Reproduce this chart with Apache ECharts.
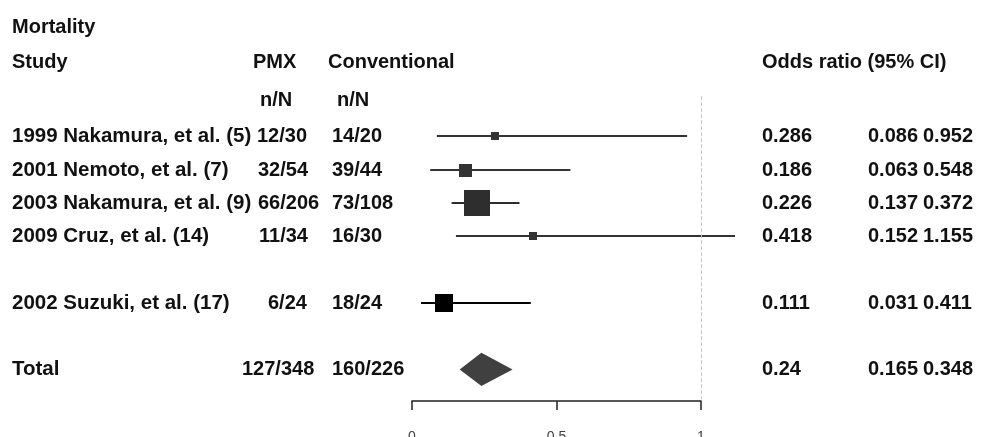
<!DOCTYPE html>
<html>
<head>
<meta charset="utf-8">
<script src="https://cdn.jsdelivr.net/npm/echarts@6/dist/echarts.min.js"></script>
<style>
html, body { margin: 0; padding: 0; background: #fff; }
#main { width: 987px; height: 437px; }
</style>
</head>
<body>
<div id="main"></div>
<script>
// data
var studies = ['1999 Nakamura, et al. (5)', '2001 Nemoto, et al. (7)', '2003 Nakamura, et al. (9)', '2009 Cruz, et al. (14)', '2002 Suzuki, et al. (17)'];
var rowIndex = [0, 1, 2, 3, 5];
var pmx = ['12/30', '32/54', '66/206', '11/34', '6/24'];
var conventional = ['14/20', '39/44', '73/108', '16/30', '18/24'];
var oddsRatio = [0.286, 0.186, 0.226, 0.418, 0.111];
var ciLow = [0.086, 0.063, 0.137, 0.152, 0.031];
var ciHigh = [0.952, 0.548, 0.372, 1.155, 0.411];
var weights = [4.9, 13.0, 52.1, 4.9, 25.0];

var totalLabel = 'Total';
var totalRow = 7;
var totalPmx = '127/348';
var totalConventional = '160/226';
var totalOR = 0.24;
var totalLow = 0.165;
var totalHigh = 0.348;

var axisTicks = [0, 0.5, 1];

var FONT = 'bold 20px "Liberation Sans", Arial, sans-serif';
var NAME_FONT = 'bold 20.5px "Liberation Sans", Arial, sans-serif';
var TXT = '#111';
var rowColors = ['#333', '#333', '#2e2e2e', '#333', '#000'];
// PMX column is typeset loosely in the original: left edge per row (last = total)
var pmxLeft = [257, 258, 258, 259, 268, 242];

var myChart = echarts.init(document.getElementById('main'));

var forestData = rowIndex.map(function (r, i) {
    return [r, oddsRatio[i], ciLow[i], ciHigh[i], weights[i]];
});

var tableRows = studies.map(function (s, i) {
    return { value: [0, rowIndex[i]], cells: [s, pmx[i], conventional[i], String(oddsRatio[i]), String(ciLow[i]), String(ciHigh[i])] };
});
tableRows.push({ value: [0, totalRow], cells: [totalLabel, totalPmx, totalConventional, String(totalOR), String(totalLow), String(totalHigh)] });

// column layout: x position (PMX taken from pmxLeft)
var cols = [12, null, 332, 762, 868, 923];

function txt(x, y, s, align, font) {
    return {
        type: 'text',
        style: { x: x, y: y, text: s, font: font || FONT, fill: TXT, align: align || 'left', verticalAlign: 'middle' }
    };
}

option = {
    animation: false,
    backgroundColor: '#fff',
    grid: [
        { left: 412, width: 323, top: 3, height: 433, outerBoundsMode: 'none', containLabel: false },
        { left: 412, width: 289, top: 300, height: 101, outerBoundsMode: 'none', containLabel: false }
    ],
    xAxis: [
        { gridIndex: 0, type: 'value', min: 0, max: 1.1176, show: false },
        {
            gridIndex: 1, type: 'value', min: 0, max: 1, interval: 0.5,
            axisLine: { show: true, lineStyle: { color: '#222', width: 1.5 } },
            axisTick: { show: true, length: 9, lineStyle: { color: '#222', width: 1.5 } },
            axisLabel: {
                margin: 29, color: '#444', fontSize: 14, fontFamily: 'Liberation Sans',
                formatter: function (v) { return axisTicks.indexOf(v) >= 0 ? String(v) : ''; }
            },
            splitLine: { show: false }
        }
    ],
    yAxis: [
        { gridIndex: 0, type: 'value', min: -4, max: 9, inverse: true, show: false },
        { gridIndex: 1, type: 'value', show: false }
    ],
    graphic: [
        txt(12, 27, 'Mortality'),
        txt(12, 62, 'Study'),
        txt(253, 62, 'PMX'),
        txt(328, 62, 'Conventional'),
        txt(762, 62, 'Odds ratio (95% CI)'),
        txt(260, 100, 'n/N'),
        txt(337, 100, 'n/N')
    ].map(function (g) { g.silent = true; return g; }),
    series: [
        {
            // study rows: CI line + weighted square
            type: 'custom',
            xAxisIndex: 0, yAxisIndex: 0,
            clip: true,
            data: forestData,
            renderItem: function (params, api) {
                var r = api.value(0);
                var pO = api.coord([api.value(1), r]);
                var pLo = api.coord([api.value(2), r]);
                var pHi = api.coord([api.value(3), r]);
                var y = Math.round(pO[1]);
                var s = Math.round(Math.sqrt(api.value(4)) * 3.6);
                var c = rowColors[params.dataIndex];
                return {
                    type: 'group',
                    children: [
                        { type: 'line', shape: { x1: pLo[0], y1: y, x2: pHi[0], y2: y }, style: { stroke: c, lineWidth: 2 } },
                        { type: 'rect', shape: { x: Math.round(pO[0] - s / 2), y: Math.round(y - s / 2), width: s, height: s }, style: { fill: c } }
                    ]
                };
            }
        },
        {
            // pooled estimate diamond
            type: 'custom',
            xAxisIndex: 0, yAxisIndex: 0,
            data: [[totalRow, totalOR, totalLow, totalHigh]],
            renderItem: function (params, api) {
                var r = api.value(0), o = api.value(1);
                var pts = [
                    api.coord([api.value(2), r]),
                    api.coord([o, r - 0.5]),
                    api.coord([api.value(3), r]),
                    api.coord([o, r + 0.5])
                ];
                return { type: 'polygon', shape: { points: pts }, style: { fill: '#404040' } };
            },
            markLine: {
                silent: true,
                symbol: 'none',
                label: { show: false },
                lineStyle: { color: '#c4c4c4', width: 1, type: 'dashed' },
                data: [[{ coord: [1, -1.2] }, { coord: [1, 7.9] }]]
            }
        },
        {
            // text table
            type: 'custom',
            xAxisIndex: 0, yAxisIndex: 0,
            silent: true,
            data: tableRows,
            renderItem: function (params, api) {
                var y = Math.round(api.coord([0, api.value(1)])[1]);
                var cells = tableRows[params.dataIndex].cells;
                return {
                    type: 'group',
                    children: cells.map(function (s, k) {
                        var x = k === 1 ? pmxLeft[params.dataIndex] : cols[k];
                        return txt(x, y, s, 'left', k === 0 ? NAME_FONT : FONT);
                    })
                };
            }
        }
    ]
};

myChart.setOption(option);
window.onresize = myChart.resize;
</script>
</body>
</html>
